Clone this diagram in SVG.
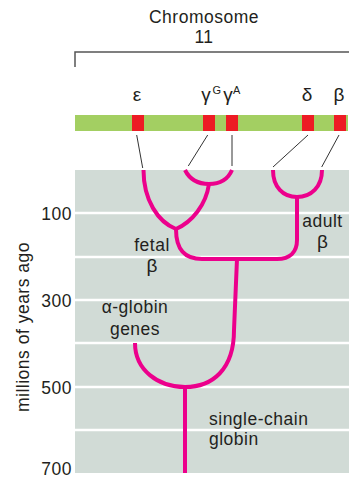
<svg xmlns="http://www.w3.org/2000/svg" width="349" height="479" viewBox="0 0 349 479">
<style>
text{font-family:"Liberation Sans","Open Sans",sans-serif;font-size:17.5px;letter-spacing:0.5px;fill:#231f20}
.tick{text-anchor:end}
.mid{text-anchor:middle}
.gk{font-size:19px;letter-spacing:0}
.sup{font-size:11px;letter-spacing:0}
.grid{stroke:#ffffff;stroke-width:2.5}
.thin{stroke:#333;stroke-width:1;fill:none}
.br{fill:none;stroke:#555;stroke-width:1.5}
.gene{fill:#ed1c24}
.tree{fill:none;stroke:#ec008c;stroke-width:4;stroke-linecap:butt;stroke-linejoin:round}
</style>
<g id="background">
<rect x="75" y="170" width="274" height="303" fill="#d1dbd6"/>
<line class="grid" x1="75" y1="213" x2="349" y2="213"/>
<line class="grid" x1="75" y1="257" x2="349" y2="257"/>
<line class="grid" x1="75" y1="300" x2="349" y2="300"/>
<line class="grid" x1="75" y1="343" x2="349" y2="343"/>
<line class="grid" x1="75" y1="387" x2="349" y2="387"/>
<line class="grid" x1="75" y1="430" x2="349" y2="430"/>
</g>
<g id="axis">
<text class="tick" x="72" y="220">100</text>
<text class="tick" x="72" y="307">300</text>
<text class="tick" x="72" y="393.5">500</text>
<text class="tick" x="72" y="475">700</text>
<text class="mid" transform="translate(29,327) rotate(-90)">millions of years ago</text>
</g>
<g id="chromosome">
<text class="mid" x="204" y="23">Chromosome</text>
<text class="mid" x="204" y="43">11</text>
<path class="br" d="M75,67 V52 H349"/>
<rect x="75" y="115" width="273" height="16" fill="#a3cf62"/>
<rect class="gene" x="132" y="115" width="12" height="16"/>
<rect class="gene" x="203" y="115" width="12" height="16"/>
<rect class="gene" x="226" y="115" width="12" height="16"/>
<rect class="gene" x="302" y="115" width="12" height="16"/>
<rect class="gene" x="334" y="115" width="12" height="16"/>
</g>
<g id="gene-labels">
<text class="mid gk" x="137" y="101">ε</text>
<text class="mid gk" x="206" y="101">γ</text>
<text class="sup" x="212.5" y="94">G</text>
<text class="mid gk" x="228" y="101">γ</text>
<text class="sup" x="233" y="94">A</text>
<text class="mid gk" x="307" y="101">δ</text>
<text class="mid gk" x="339" y="101">β</text>
</g>
<g id="connectors">
<line class="thin" x1="136.7" y1="135" x2="142.7" y2="168"/>
<line class="thin" x1="207.7" y1="135" x2="188.3" y2="166"/>
<line class="thin" x1="232" y1="135" x2="232" y2="166"/>
<line class="thin" x1="308" y1="135" x2="273" y2="167"/>
<line class="thin" x1="339" y1="135" x2="321.7" y2="167"/>
</g>
<g id="tree">
<path class="tree" d="M143.5,170 C143.5,200 158,222 176,229"/>
<path class="tree" d="M185,170 Q192,184 209,184 Q226,184 232,170"/>
<path class="tree" d="M209,184 C206,205 192,222 176,229"/>
<path class="tree" d="M176,229 C176,250 185,259 202,259 L277,259 C290,259 297,252 297,240 L297,197"/>
<path class="tree" d="M273,170 C273,187 283,197 297,197 C311,197 322,187 322,170"/>
<path class="tree" d="M237,259 L234,330 C234,370 212,387 185,387 C158,387 135,370 135,343"/>
<path class="tree" d="M185,387 L185,473"/>
</g>
<g id="tree-labels">
<text class="mid" x="152" y="251">fetal</text>
<text class="mid gk" x="152" y="272">β</text>
<text class="mid" x="322.5" y="227">adult</text>
<text class="mid gk" x="322.5" y="248">β</text>
<text class="mid" x="135" y="313">α-globin</text>
<text class="mid" x="135" y="335">genes</text>
<text x="209" y="425">single-chain</text>
<text x="209" y="445">globin</text>
</g>
</svg>
